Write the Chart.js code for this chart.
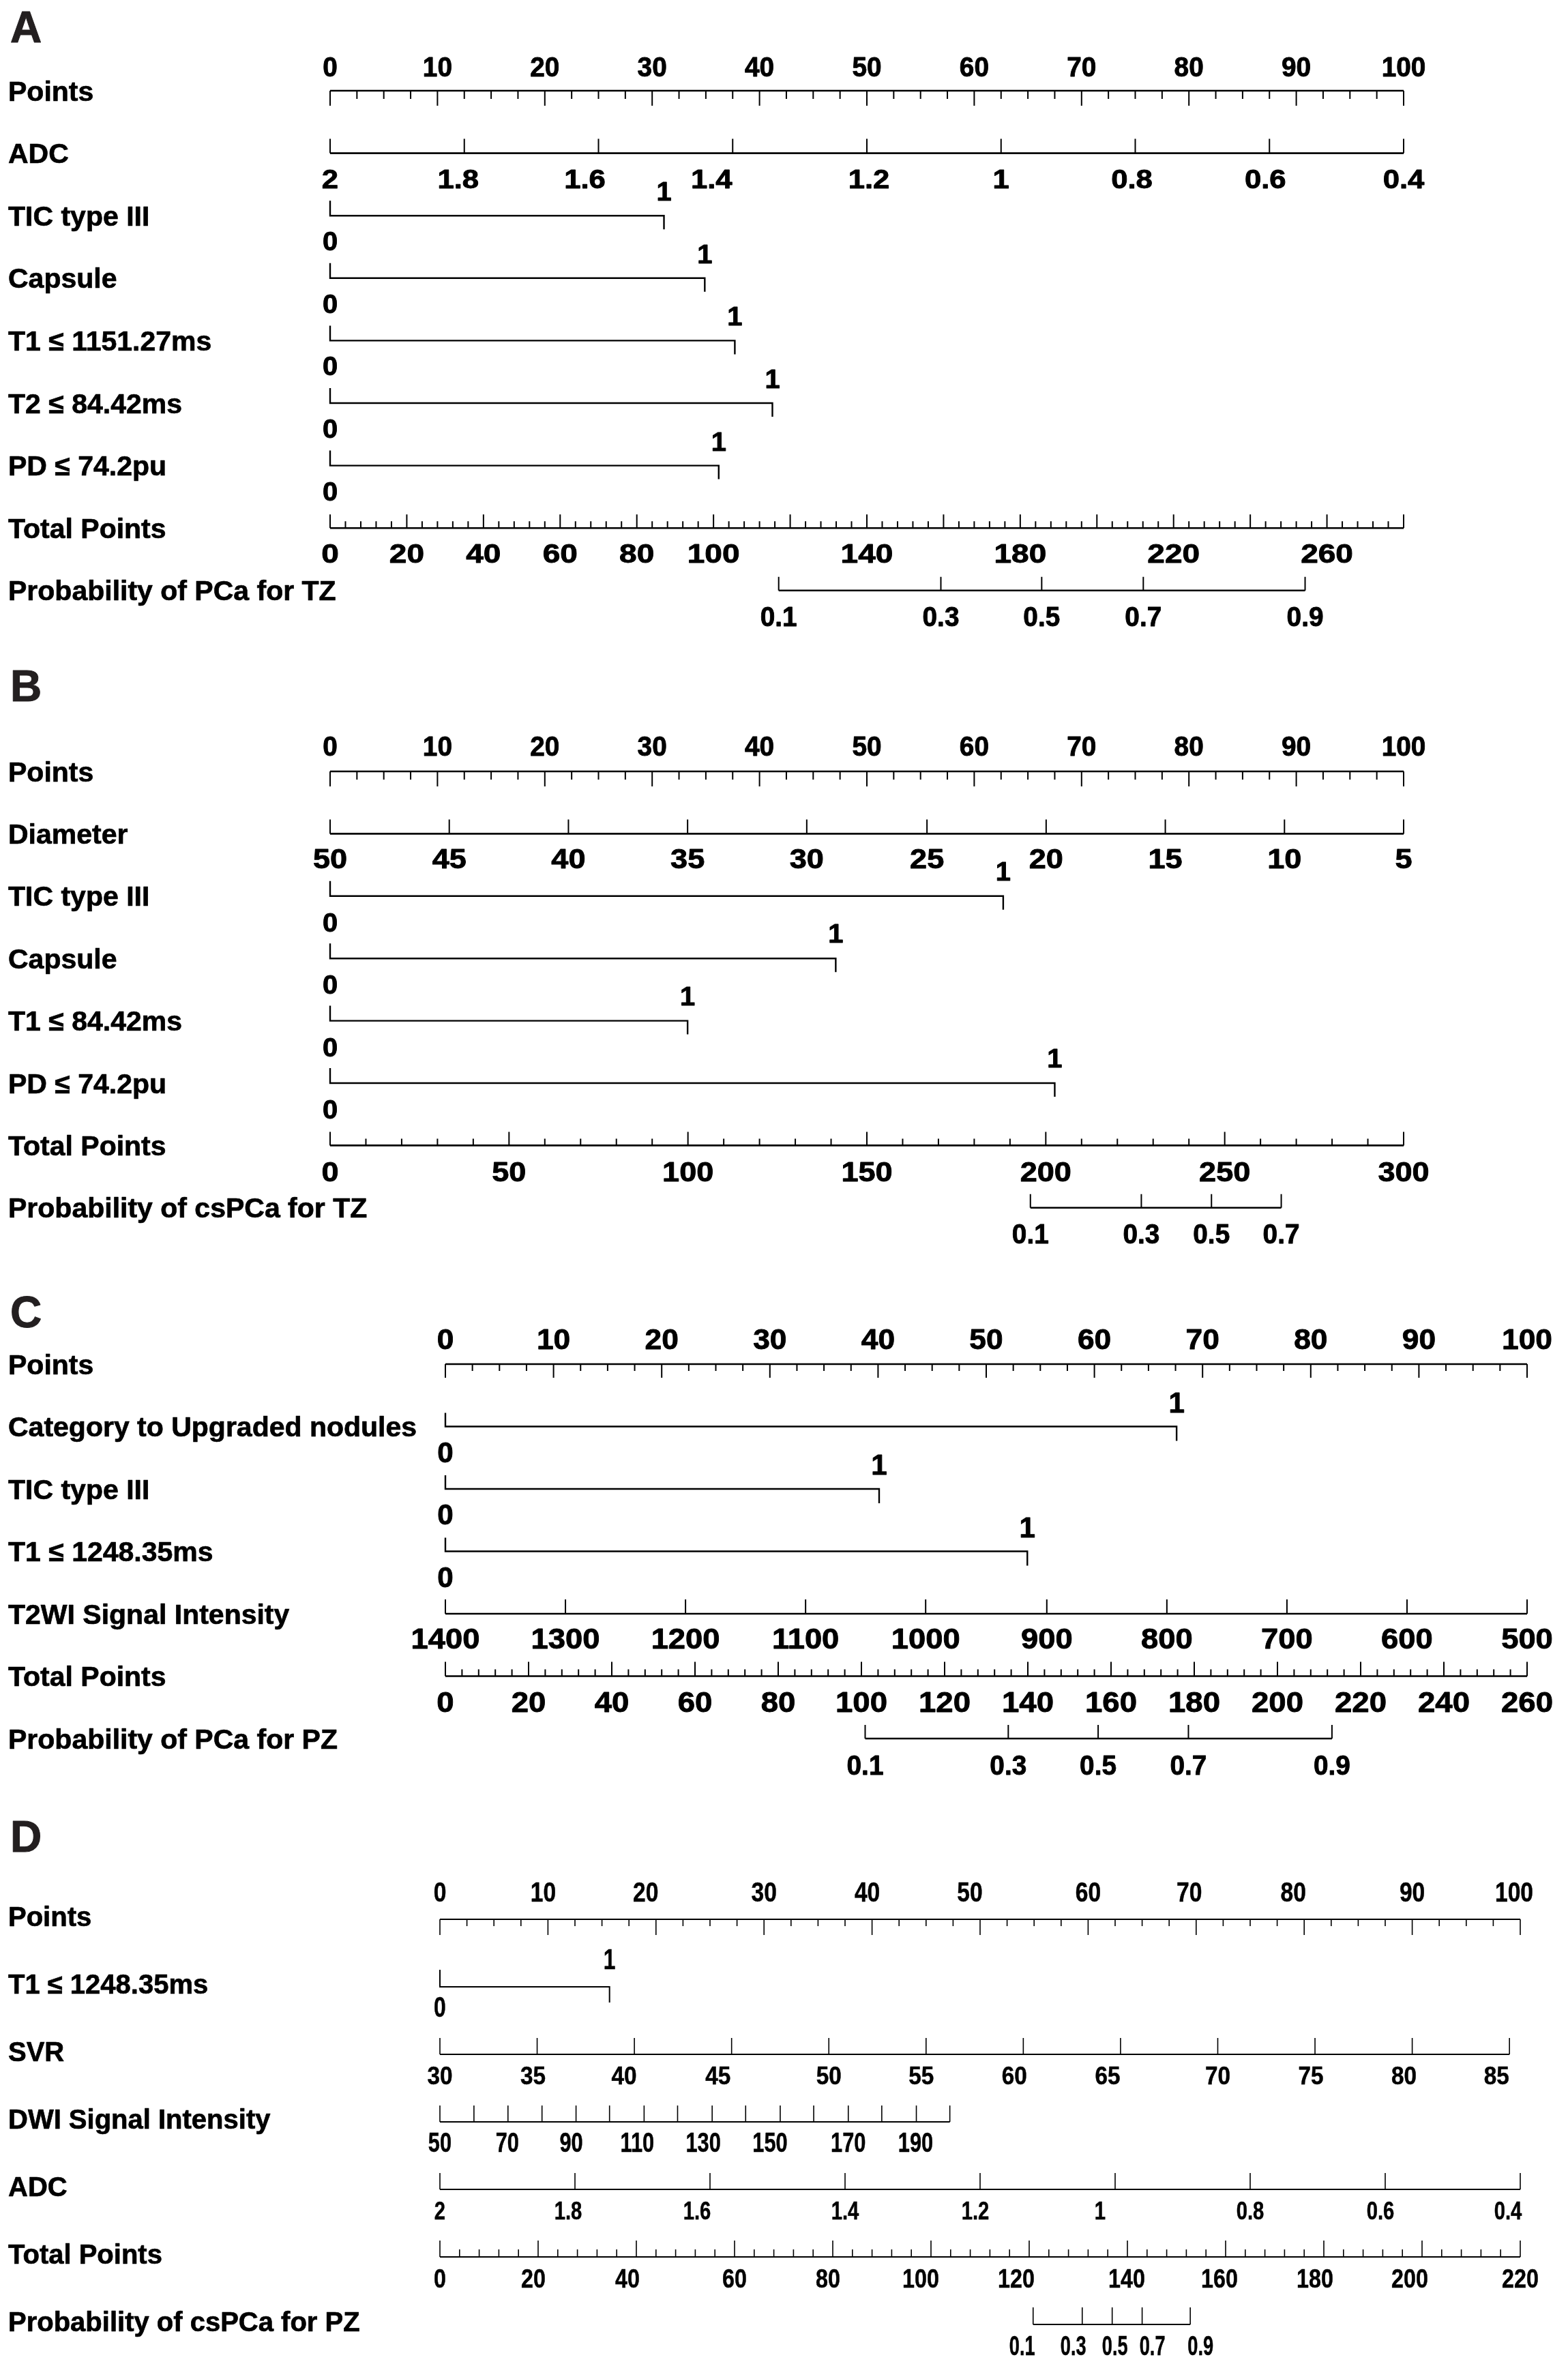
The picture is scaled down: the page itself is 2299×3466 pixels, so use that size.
<!DOCTYPE html>
<html>
<head>
<meta charset="utf-8">
<script src="https://cdn.jsdelivr.net/npm/chart.js@4.4.1/dist/chart.umd.min.js"></script>
<style>
html, body { margin: 0; padding: 0; background: #fff; }
#fig { position: relative; width: 2299px; height: 3466px; background: #fff; }
#fig canvas { position: absolute; left: 0; }
</style>
</head>
<body>
<div id="fig"></div>
<script>
// points scale shared by every nomogram
const pointTicks = [0, 10, 20, 30, 40, 50, 60, 70, 80, 90, 100];

// A - PCa, transition zone
const aAdcLabels = ['2', '1.8', '1.6', '1.4', '1.2', '1', '0.8', '0.6', '0.4'];
const aAdcPoints = [0, 12.5, 25, 37.5, 50, 62.5, 75, 87.5, 100];
const aBinNames = ['TIC type III', 'Capsule', 'T1 ≤ 1151.27ms', 'T2 ≤ 84.42ms', 'PD ≤ 74.2pu'];
const aBinPoints = [31.1, 34.9, 37.7, 41.2, 36.2];
const aTotalMax = 280;
const aTotalLabels = [0, 20, 40, 60, 80, 100, 140, 180, 220, 260];
const aProbLabels = ['0.1', '0.3', '0.5', '0.7', '0.9'];
const aProbTotals = [117.0, 159.3, 185.6, 212.1, 254.3];

// B - csPCa, transition zone
const bDiamLabels = ['50', '45', '40', '35', '30', '25', '20', '15', '10', '5'];
const bDiamPoints = [0, 11.1, 22.2, 33.3, 44.4, 55.6, 66.7, 77.8, 88.9, 100];
const bBinNames = ['TIC type III', 'Capsule', 'T1 ≤ 84.42ms', 'PD ≤ 74.2pu'];
const bBinPoints = [62.7, 47.1, 33.3, 67.5];
const bTotalMax = 300;
const bTotalLabels = [0, 50, 100, 150, 200, 250, 300];
const bProbLabels = ['0.1', '0.3', '0.5', '0.7'];
const bProbTotals = [195.7, 226.7, 246.3, 265.8];

// C - PCa, peripheral zone
const cBinNames = ['Category to Upgraded nodules', 'TIC type III', 'T1 ≤ 1248.35ms'];
const cBinPoints = [67.6, 40.1, 53.8];
const cT2Labels = ['1400', '1300', '1200', '1100', '1000', '900', '800', '700', '600', '500'];
const cT2Points = [0, 11.1, 22.2, 33.3, 44.4, 55.6, 66.7, 77.8, 88.9, 100];
const cTotalMax = 260;
const cTotalLabels = [0, 20, 40, 60, 80, 100, 120, 140, 160, 180, 200, 220, 240, 260];
const cProbLabels = ['0.1', '0.3', '0.5', '0.7', '0.9'];
const cProbTotals = [100.9, 135.3, 156.9, 178.6, 213.1];

// D - csPCa, peripheral zone
const dBinNames = ['T1 ≤ 1248.35ms'];
const dBinPoints = [15.7];
const dSvrLabels = ['30', '35', '40', '45', '50', '55', '60', '65', '70', '75', '80', '85'];
const dSvrPoints = [0, 9, 18, 27, 36, 45, 54, 63, 72, 81, 90, 99];
const dDwiTicks = [50, 60, 70, 80, 90, 100, 110, 120, 130, 140, 150, 160, 170, 180, 190, 200];
const dDwiPoints = [0, 3.15, 6.3, 9.45, 12.6, 15.7, 18.9, 22.0, 25.2, 28.3, 31.5, 34.6, 37.8, 40.9, 44.1, 47.2];
const dDwiLabels = [50, 70, 90, 110, 130, 150, 170, 190];
const dAdcLabels = ['2', '1.8', '1.6', '1.4', '1.2', '1', '0.8', '0.6', '0.4'];
const dAdcPoints = [0, 12.5, 25, 37.5, 50, 62.5, 75, 87.5, 100];
const dTotalMax = 220;
const dTotalLabels = [0, 20, 40, 60, 80, 100, 120, 140, 160, 180, 200, 220];
const dProbLabels = ['0.1', '0.3', '0.5', '0.7', '0.9'];
const dProbTotals = [120.8, 130.8, 136.9, 143.0, 152.8];

const W = 2299;
const FONT = '"Liberation Sans", Arial, Helvetica, sans-serif';

const panels = [
  {
    id: 'A', T: 0, H: 945, Y0: 133, gap: 91.6, x0: 484, x1: 2058, totalMax: aTotalMax, letterY: 62,
    labelFs: 41, labelDy: 0, lw: 2.6, tw: 2, heavy: 0.9,
    tk: { ptsMajor: 22, ptsMinor: 12, axis: 21, totMajor: 20, totMinor: 10, prob: 20, binUp: 22, binDown: 20 },
    st: {
      points: { fs: 40, sx: 0.97, dy: -21 }, scale: { fs: 39, sx: 1.12, dy: 51 },
      bin: { fs: 38, sx: 1.05, up: -22, dn: 51 }, total: { fs: 39, sx: 1.18, dy: 51 }, prob: { fs: 40, sx: 0.97, dy: 52 }
    },
    rows: [
      { kind: 'points', name: 'Points' },
      { kind: 'scale', name: 'ADC', pts: aAdcPoints, labels: aAdcLabels, shift: [0, -9, -20, -31, 3, 0, -5, -6, 0] },
      ...aBinNames.map((n, i) => ({ kind: 'bin', name: n, v: aBinPoints[i] })),
      { kind: 'total', name: 'Total Points', major: 20, minor: 4, labels: aTotalLabels },
      { kind: 'prob', name: 'Probability of PCa for TZ', tot: aProbTotals, labels: aProbLabels }
    ]
  },
  {
    id: 'B', T: 945, H: 915, Y0: 1131, gap: 91.4, x0: 484, x1: 2058, totalMax: bTotalMax, letterY: 1028,
    labelFs: 41, labelDy: 0, lw: 2.6, tw: 2, heavy: 0.9,
    tk: { ptsMajor: 22, ptsMinor: 12, axis: 21, totMajor: 20, totMinor: 10, prob: 20, binUp: 22, binDown: 20 },
    st: {
      points: { fs: 40, sx: 0.97, dy: -23 }, scale: { fs: 41, sx: 1.1, dy: 51 },
      bin: { fs: 38, sx: 1.05, up: -23, dn: 52 }, total: { fs: 41, sx: 1.1, dy: 53 }, prob: { fs: 40, sx: 0.97, dy: 52 }
    },
    rows: [
      { kind: 'points', name: 'Points' },
      { kind: 'scale', name: 'Diameter', pts: bDiamPoints, labels: bDiamLabels },
      ...bBinNames.map((n, i) => ({ kind: 'bin', name: n, v: bBinPoints[i] })),
      { kind: 'total', name: 'Total Points', major: 50, minor: 10, labels: bTotalLabels },
      { kind: 'prob', name: 'Probability of csPCa for TZ', tot: bProbTotals, labels: bProbLabels }
    ]
  },
  {
    id: 'C', T: 1860, H: 770, Y0: 2000, gap: 91.5, x0: 653, x1: 2239, totalMax: cTotalMax, letterY: 1946,
    labelFs: 41, labelDy: 0, lw: 2.6, tw: 2, heavy: 0.9,
    tk: { ptsMajor: 20, ptsMinor: 10, axis: 21, totMajor: 21, totMinor: 10, prob: 20, binUp: 20, binDown: 21 },
    st: {
      points: { fs: 43, sx: 1.03, dy: -22 }, scale: { fs: 42, sx: 1.08, dy: 51 },
      bin: { fs: 43, sx: 0.98, up: -21, dn: 52 }, total: { fs: 43, sx: 1.06, dy: 52 }, prob: { fs: 40, sx: 0.97, dy: 53 }
    },
    rows: [
      { kind: 'points', name: 'Points' },
      ...cBinNames.map((n, i) => ({ kind: 'bin', name: n, v: cBinPoints[i] })),
      { kind: 'scale', name: 'T2WI Signal Intensity', pts: cT2Points, labels: cT2Labels },
      { kind: 'total', name: 'Total Points', major: 20, minor: 4, labels: cTotalLabels },
      { kind: 'prob', name: 'Probability of PCa for PZ', tot: cProbTotals, labels: cProbLabels }
    ]
  },
  {
    id: 'D', T: 2630, H: 836, Y0: 2814, gap: 99, x0: 645, x1: 2229, totalMax: dTotalMax, letterY: 2715,
    labelFs: 40, labelDy: -4, lw: 2.2, tw: 1.6, heavy: 0.5,
    tk: { ptsMajor: 23, ptsMinor: 10, axis: 24, totMajor: 24, totMinor: 11, prob: 25, binUp: 25, binDown: 23 },
    st: {
      points: { fs: 40, sx: 0.84, dy: -26, shift: [0, -7, -15, 0, -7, -15, 0, -10, -16, 0, -9] },
      scale: { fs: 37, sx: 0.9, dy: 44 },
      bin: { fs: 42, sx: 0.76, up: -26, dn: 44 }, total: { fs: 38, sx: 0.85, dy: 45 }, prob: { fs: 40, sx: 0.68, dy: 45 }
    },
    rows: [
      { kind: 'points', name: 'Points' },
      ...dBinNames.map((n, i) => ({ kind: 'bin', name: n, v: dBinPoints[i] })),
      { kind: 'scale', name: 'SVR', pts: dSvrPoints, labels: dSvrLabels,
        shift: [0, -6, -15, -20, 0, -7, -13, -19, 0, -6, -12, -19] },
      { kind: 'scale', name: 'DWI Signal Intensity', pts: dDwiPoints,
        labels: dDwiTicks.map(t => dDwiLabels.includes(t) ? String(t) : ''),
        fs: 40, sx: 0.77, shift: [0, 0, -1, 0, -7, 0, -10, 0, -13, 0, -15, 0, 0, 0, -1, 0] },
      { kind: 'scale', name: 'ADC', pts: dAdcPoints, labels: dAdcLabels, sx: 0.79,
        shift: [0, -10, -19, 0, -7, -22, 0, -7, -18] },
      { kind: 'total', name: 'Total Points', major: 20, minor: 4, labels: dTotalLabels,
        shift: [0, -7, -13, 0, -7, -15, -19, -1, -9, -13, -18, 0] },
      { kind: 'prob', name: 'Probability of csPCa for PZ', tot: dProbTotals, labels: dProbLabels,
        shift: [-16, -13, 4, 15, 15] }
    ]
  }
];

function addSeg(list, xa, ya, xb, yb) {
  list.push({ x: xa, y: ya }, { x: xb, y: yb }, { x: xb, y: null });
}

function buildPanel(p) {
  const u = px => px / p.gap;
  const lines = [], ticks = [], brackets = [], tLines = [], tTicks = [];
  const items = [];
  items.push({ x: 15, y: p.letterY - p.T, text: p.id, fs: 64, sx: 1, align: 'left', color: '#231f20', heavy: 1 });

  p.rows.forEach((row, r) => {
    items.push({ x: 12, row: r, dy: 0.358 * p.labelFs + p.labelDy, text: row.name, fs: p.labelFs, sx: 1, align: 'left', heavy: 0.7 });
    const s = p.st[row.kind];
    const fs = row.fs || s.fs, sx = row.sx || s.sx;
    const shift = row.shift || s.shift || [];
    const hv = p.heavy;

    if (row.kind === 'points') {
      addSeg(lines, 0, r, 100, r);
      for (let v = 0; v <= 100; v += 2.5) {
        const len = pointTicks.includes(v) ? p.tk.ptsMajor : p.tk.ptsMinor;
        addSeg(ticks, v, r, v, r + u(len));
      }
      pointTicks.forEach((v, i) => items.push({ axis: 'x', v, row: r, dy: s.dy, text: String(v), fs, sx, heavy: hv, shift: shift[i] || 0 }));
    } else if (row.kind === 'scale') {
      addSeg(lines, row.pts[0], r, row.pts[row.pts.length - 1], r);
      row.pts.forEach(v => addSeg(ticks, v, r, v, r - u(p.tk.axis)));
      row.labels.forEach((lab, i) => {
        if (lab !== '') items.push({ axis: 'x', v: row.pts[i], row: r, dy: s.dy, text: lab, fs, sx, heavy: hv, shift: shift[i] || 0 });
      });
    } else if (row.kind === 'bin') {
      brackets.push({ x: 0, y: r - u(p.tk.binUp) }, { x: 0, y: r }, { x: row.v, y: r },
                    { x: row.v, y: r + u(p.tk.binDown) }, { x: row.v, y: null });
      items.push({ axis: 'x', v: 0, row: r, dy: s.dn, text: '0', fs, sx, heavy: hv });
      items.push({ axis: 'x', v: row.v, row: r, dy: s.up, text: '1', fs, sx, heavy: hv });
    } else if (row.kind === 'total') {
      addSeg(tLines, 0, r, p.totalMax, r);
      for (let v = 0; v <= p.totalMax; v += row.minor) {
        const len = v % row.major === 0 ? p.tk.totMajor : p.tk.totMinor;
        addSeg(tTicks, v, r, v, r - u(len));
      }
      row.labels.forEach((v, i) => items.push({ axis: 'xt', v, row: r, dy: s.dy, text: String(v), fs, sx, heavy: hv, shift: shift[i] || 0 }));
    } else if (row.kind === 'prob') {
      addSeg(tLines, row.tot[0], r, row.tot[row.tot.length - 1], r);
      row.tot.forEach(v => addSeg(tTicks, v, r, v, r - u(p.tk.prob)));
      row.labels.forEach((lab, i) => items.push({ axis: 'xt', v: row.tot[i], row: r, dy: s.dy, text: lab, fs, sx, heavy: hv, shift: shift[i] || 0 }));
    }
  });

  const ds = (data, axis, w) => ({
    data, xAxisID: axis, yAxisID: 'y', borderColor: '#000', borderWidth: w,
    pointRadius: 0, fill: false, tension: 0, spanGaps: false, clip: false,
    borderCapStyle: 'butt', borderJoinStyle: 'miter'
  });

  const cv = document.createElement('canvas');
  cv.width = W;
  cv.height = p.H;
  cv.style.top = p.T + 'px';
  document.getElementById('fig').appendChild(cv);

  const ymin = -(p.Y0 - p.T) / p.gap;
  const ymax = ymin + p.H / p.gap;

  new Chart(cv.getContext('2d'), {
    type: 'line',
    data: {
      datasets: [
        ds(lines, 'x', p.lw), ds(ticks, 'x', p.tw), ds(brackets, 'x', p.tw + 0.4),
        ds(tLines, 'xt', p.lw), ds(tTicks, 'xt', p.tw)
      ]
    },
    options: {
      responsive: false, animation: false, events: [],
      layout: { padding: { left: p.x0, right: W - p.x1, top: 0, bottom: 0 } },
      plugins: { legend: { display: false }, tooltip: { enabled: false } },
      scales: {
        x: { type: 'linear', min: 0, max: 100, display: false },
        xt: { type: 'linear', axis: 'x', min: 0, max: p.totalMax, display: false },
        y: { type: 'linear', reverse: true, min: ymin, max: ymax, display: false }
      }
    },
    plugins: [{
      id: 'nomoText' + p.id,
      afterDraw(chart) {
        const ctx = chart.ctx;
        const ys = chart.scales.y;
        ctx.save();
        items.forEach(t => {
          const x = t.axis ? chart.scales[t.axis].getPixelForValue(t.v) + (t.shift || 0) : t.x;
          const y = t.row !== undefined ? ys.getPixelForValue(t.row) + t.dy : t.y;
          const col = t.color || '#000';
          ctx.fillStyle = col;
          ctx.strokeStyle = col;
          ctx.font = 'bold ' + t.fs + 'px ' + FONT;
          ctx.textAlign = t.align || 'center';
          ctx.textBaseline = 'alphabetic';
          ctx.save();
          ctx.translate(x, y);
          ctx.scale(t.sx || 1, 1);
          ctx.fillText(t.text, 0, 0);
          if (t.heavy) {
            ctx.lineWidth = t.heavy;
            ctx.lineJoin = 'round';
            ctx.strokeText(t.text, 0, 0);
          }
          ctx.restore();
        });
        ctx.restore();
      }
    }]
  });
}

panels.forEach(buildPanel);
</script>
</body>
</html>
